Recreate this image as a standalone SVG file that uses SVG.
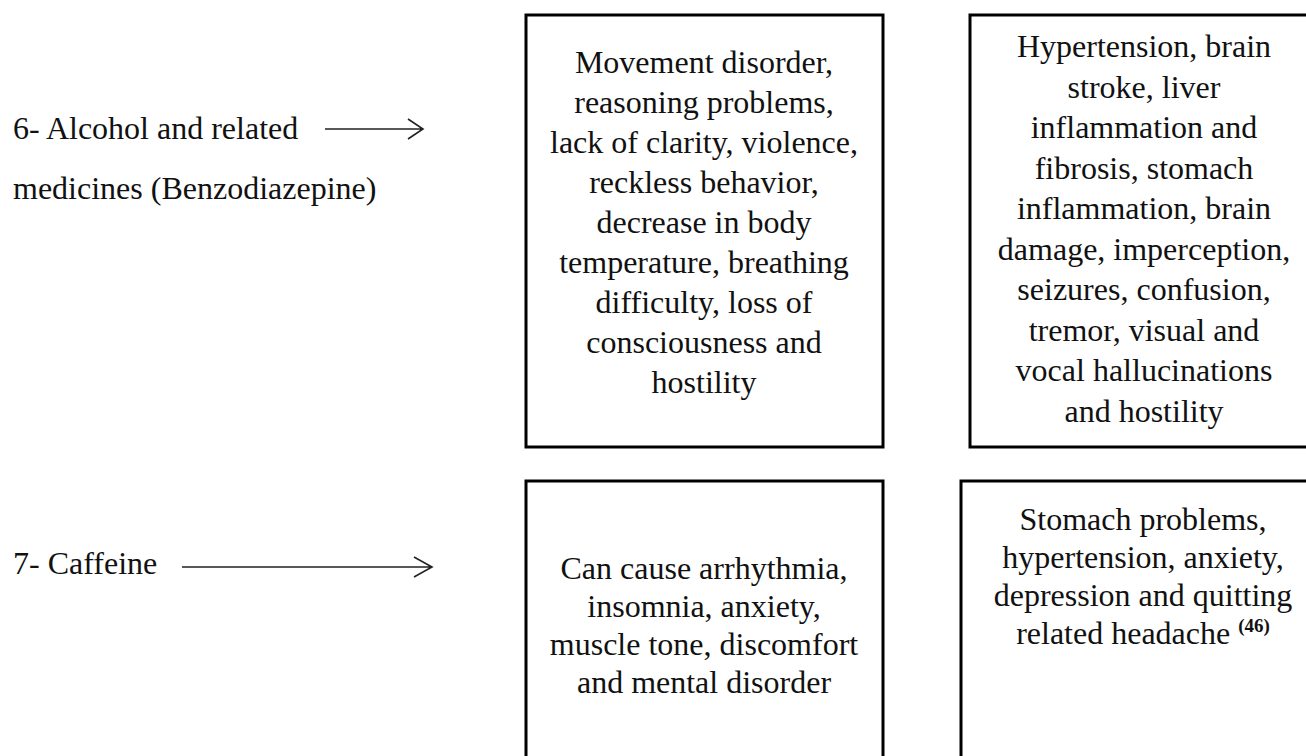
<svg xmlns="http://www.w3.org/2000/svg" width="1306" height="756" viewBox="0 0 1306 756">
<style>
  .t { font-family: "Liberation Serif", "Times New Roman", serif; font-size: 32px; fill: #111; }
  .c { text-anchor: middle; }
  .box { fill: #fff; stroke: #000; stroke-width: 3; }
  .ln { fill: none; stroke: #222; stroke-width: 1.6; }
  .sup { font-family: "Liberation Serif", "Times New Roman", serif; font-size: 19px; font-weight: bold; fill: #111; }
</style>
<rect width="1306" height="756" fill="#fff"/>
<g id="label6">
  <text class="t" x="13" y="139">6- Alcohol and related</text>
  <text class="t" x="13" y="199">medicines (Benzodiazepine)</text>
</g>
<g id="label7">
  <text class="t" x="13" y="574">7- Caffeine</text>
</g>
<g id="connectors">
  <path class="ln" d="M325 129 H423 M408 119 L423 129 L408 139"/>
  <path class="ln" d="M182 567 H432 M414 557 L432 567 L414 577"/>
</g>
<g id="box-alcohol-short">
  <rect class="box" x="526" y="15" width="357" height="432"/>
  <text class="t c" x="704" y="73">Movement disorder,</text>
  <text class="t c" x="704" y="113">reasoning problems,</text>
  <text class="t c" x="704" y="153">lack of clarity, violence,</text>
  <text class="t c" x="704" y="193">reckless behavior,</text>
  <text class="t c" x="704" y="233">decrease in body</text>
  <text class="t c" x="704" y="273">temperature, breathing</text>
  <text class="t c" x="704" y="313">difficulty, loss of</text>
  <text class="t c" x="704" y="353">consciousness and</text>
  <text class="t c" x="704" y="393">hostility</text>
</g>
<g id="box-alcohol-long">
  <rect class="box" x="970" y="15" width="400" height="432"/>
  <text class="t c" x="1144" y="57">Hypertension, brain</text>
  <text class="t c" x="1144" y="97.5">stroke, liver</text>
  <text class="t c" x="1144" y="138">inflammation and</text>
  <text class="t c" x="1144" y="178.5">fibrosis, stomach</text>
  <text class="t c" x="1144" y="219">inflammation, brain</text>
  <text class="t c" x="1144" y="259.5">damage, imperception,</text>
  <text class="t c" x="1144" y="300">seizures, confusion,</text>
  <text class="t c" x="1144" y="340.5">tremor, visual and</text>
  <text class="t c" x="1144" y="381">vocal hallucinations</text>
  <text class="t c" x="1144" y="421.5">and hostility</text>
</g>
<g id="box-caffeine-short">
  <rect class="box" x="526" y="481" width="357" height="300"/>
  <text class="t c" x="704" y="579">Can cause arrhythmia,</text>
  <text class="t c" x="704" y="617">insomnia, anxiety,</text>
  <text class="t c" x="704" y="655">muscle tone, discomfort</text>
  <text class="t c" x="704" y="693">and mental disorder</text>
</g>
<g id="box-caffeine-long">
  <rect class="box" x="961" y="481" width="400" height="300"/>
  <text class="t c" x="1143" y="530">Stomach problems,</text>
  <text class="t c" x="1143" y="568">hypertension, anxiety,</text>
  <text class="t c" x="1143" y="606">depression and quitting</text>
  <text class="t c" x="1143" y="644">related headache <tspan class="sup" dy="-12">(46)</tspan></text>
</g>
</svg>
